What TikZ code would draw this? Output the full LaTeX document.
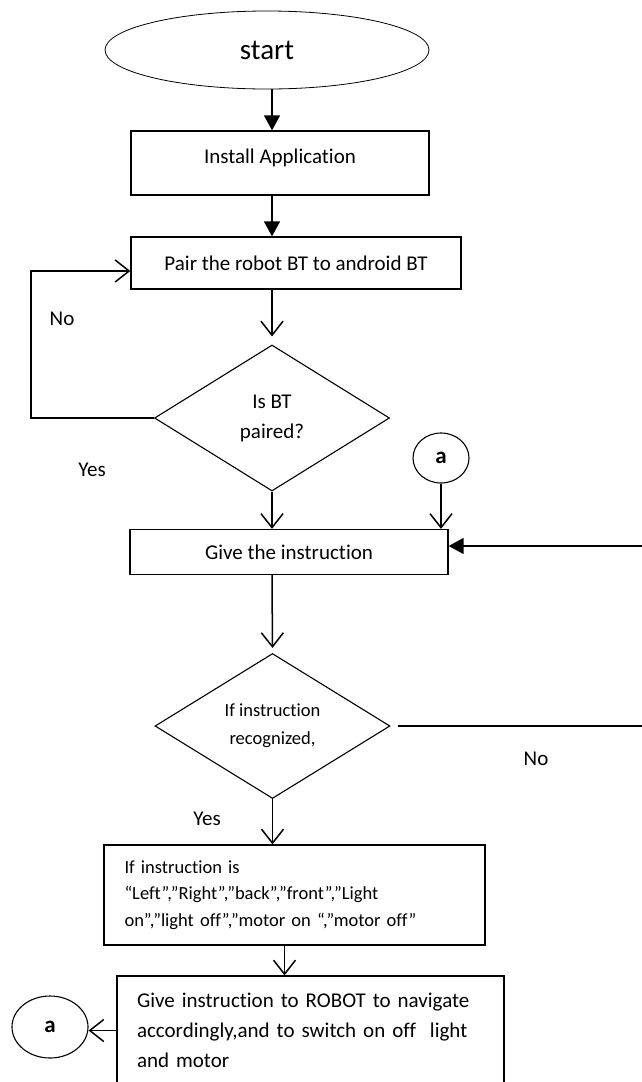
\documentclass[tikz,border=0pt]{standalone}
\usepackage{fontspec}
\setmainfont{Carlito}[Ligatures=NoCommon]
\usetikzlibrary{shapes.geometric,arrows.meta}

\begin{document}
\begin{tikzpicture}[x=1pt,y=-1pt,line width=1.3pt,
    boxnode/.style={draw,rectangle,inner sep=0pt,font=\fontsize{21}{30}\selectfont},
    decide/.style={draw,diamond,aspect=1.6,inner sep=0pt,align=center,line width=1.1pt},
    joint/.style={draw,ellipse,inner sep=0pt,line width=1.1pt,font=\fontsize{23}{26}\selectfont\bfseries},
    solid head/.style={-{Triangle[length=15pt,width=16pt]},line width=1.5pt},
    open head/.style={-{Straight Barb[length=14pt,width=22pt]},line width=1.5pt},
    tag/.style={font=\fontsize{21}{25}\selectfont}]
             \useasboundingbox (0,0) rectangle (642,1082);

             \coordinate (spine) at (272,0);
             \coordinate (loop) at (31,0);
             \coordinate (edge) at (646,0);

             \node[draw,ellipse,minimum width=324pt,minimum height=78pt,inner sep=0pt,line width=.8pt,
                   font=\fontsize{29}{34}\selectfont] (start) at (267,50) {start};
             \node[boxnode,minimum width=298pt,minimum height=64pt,text height=10pt,text depth=10pt]
                   (install) at (280,163) {Install Application};
             \node[boxnode,minimum width=330pt,minimum height=52pt] (pair) at (296,263)
                   {Pair the robot BT to android BT};
             \node[decide,minimum width=235pt,minimum height=146pt,font=\fontsize{21}{30}\selectfont]
                   (paired) at (272,418) {Is BT\\paired?};
             \node[boxnode,minimum width=318pt,minimum height=45pt] (give) at (289,552)
                   {Give the instruction};
             \node[joint,minimum width=56pt,minimum height=50pt] (atop) at (441,458) {a};
             \node[decide,minimum width=235pt,minimum height=145pt,font=\fontsize{18.5}{28}\selectfont]
                   (known) at (272.5,726) {If instruction\\recognized,};
             \node[boxnode,minimum width=381pt,minimum height=100pt,text width=340pt,align=left,
                   font=\fontsize{18.5}{26.5}\selectfont] (cases) at (294.5,895)
                   {If instruction is\\“Left”,”Right”,”back”,”front”,”Light\\on”,”light off”,”motor on “,”motor off”};
             \node[boxnode,minimum width=387pt,minimum height=109pt,text width=347pt,align=left]
                   (robot) at (310.5,1030.5)
                   {Give instruction to ROBOT to navigate\\accordingly,and to switch on off\ \ light\\and motor};
             \node[joint,minimum width=76pt,minimum height=62pt] (abot) at (50,1027) {a};

             \node[tag] (nobt) at (62,319) {No};
             \node[tag] (yesbt) at (92,470) {Yes};
             \node[tag] (noins) at (536,759) {No};
             \node[tag] (yesins) at (207,819) {Yes};

             \coordinate (feed) at ([yshift=6pt]give.east);
             \coordinate (drop) at ([xshift=-10pt]cases.south);

             \draw[solid head] (start.south -| spine) -- (install.north -| spine);
             \draw[solid head] (install.south -| spine) -- (pair.north -| spine);
             \draw[open head,shorten >=8pt] (pair.south -| spine) -- (paired.north);
             \draw[open head] (paired.west) -- (paired.west -| loop) |- ([yshift=-8pt]pair.west);
             \draw[open head] (paired.south) -- (paired.south |- give.north);
             \draw[open head] (atop.south) -- (atop.south |- give.north);
             \draw[open head,shorten >=5pt] (give.south -| spine) -- (known.north);
             \draw[solid head] ([xshift=7pt]known.east) -- (known.east -| edge) -- (edge |- feed) -- (feed);
             \draw[open head] (known.south) -- (known.south |- cases.north);
             \draw[open head] (drop) -- (drop |- robot.north);
             \draw[open head] (robot.west) -- (robot.west -| abot.east);
\end{tikzpicture}
\end{document}
